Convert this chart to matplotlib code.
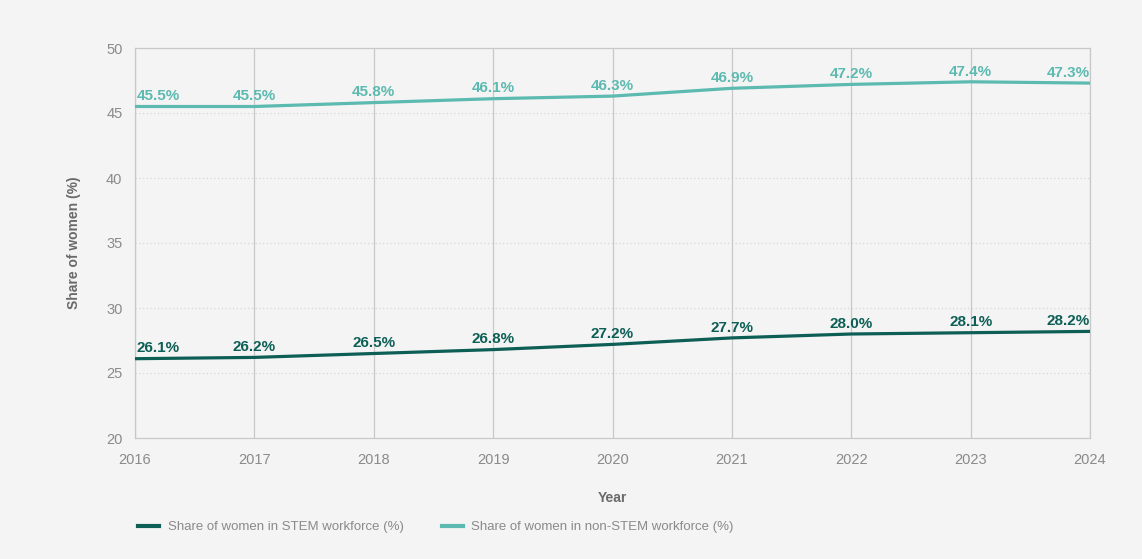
import matplotlib
matplotlib.use("Agg")
import matplotlib.pyplot as plt
from matplotlib.lines import Line2D

plt.rcParams['font.family'] = ['Liberation Sans', 'DejaVu Sans']

years = [2016, 2017, 2018, 2019, 2020, 2021, 2022, 2023, 2024]
stem = [26.1, 26.2, 26.5, 26.8, 27.2, 27.7, 28.0, 28.1, 28.2]
non_stem = [45.5, 45.5, 45.8, 46.1, 46.3, 46.9, 47.2, 47.4, 47.3]
series_names = ["Share of women in STEM workforce (%)",
                "Share of women in non-STEM workforce (%)"]
yticks = [20, 25, 30, 35, 40, 45, 50]

BG = "#f4f4f4"
DARK = "#0d5f56"
LIGHT = "#5cbab0"
GRID = "#c8c8c8"
TXT = "#8a8a8a"

fig = plt.figure(figsize=(11.42, 5.59), dpi=100, facecolor=BG)
ax = fig.add_axes([135/1142, 1-438/559, (1090-135)/1142, (438-48)/559])
ax.set_facecolor(BG)

ax.set_xlim(2016, 2024)
ax.set_ylim(20, 50)
ax.set_xticks(years)
ax.set_yticks(yticks)

for y in yticks[1:-1]:
    ax.axhline(y, color="#d6d6d6", lw=0.9, ls=(0, (1, 2)), zorder=1)
for x in years:
    ax.axvline(x, color=GRID, lw=0.9, zorder=1)
for s in ax.spines.values():
    s.set_color(GRID)
    s.set_linewidth(0.9)

ax.tick_params(axis='x', length=0, labelsize=10.5, colors=TXT, pad=11)
ax.tick_params(axis='y', length=0, labelsize=10.5, colors=TXT, pad=9)

for vals, col in [(stem, DARK), (non_stem, LIGHT)]:
    ax.plot(years, vals, color=col, lw=2.3, zorder=3, solid_capstyle='butt')
    for i, (x, v) in enumerate(zip(years, vals)):
        ha = 'left' if i == 0 else ('right' if i == len(years)-1 else 'center')
        ax.annotate(f"{v:.1f}%", (x, v), xytext=(1 if i == 0 else 0, 4.5),
                    textcoords='offset points', ha=ha, va='baseline', color=col,
                    fontsize=11, fontweight='bold', zorder=4)

ax.set_xlabel("Year", fontsize=10, fontweight='bold', color="#6a6a6a", labelpad=17)
ax.set_ylabel("Share of women (%)", fontsize=10, fontweight='bold', color="#6a6a6a", labelpad=18)

handles = [Line2D([0], [0], color=DARK, lw=3), Line2D([0], [0], color=LIGHT, lw=3)]
leg = fig.legend(handles, series_names, loc='center left', bbox_to_anchor=(126/1142, 1-527/559),
                 ncol=2, frameon=False, fontsize=9.5, handlelength=1.6, columnspacing=2.9,
                 handletextpad=0.65)
for t in leg.get_texts():
    t.set_color(TXT)

fig.savefig("out.png", dpi=100, facecolor=BG)
